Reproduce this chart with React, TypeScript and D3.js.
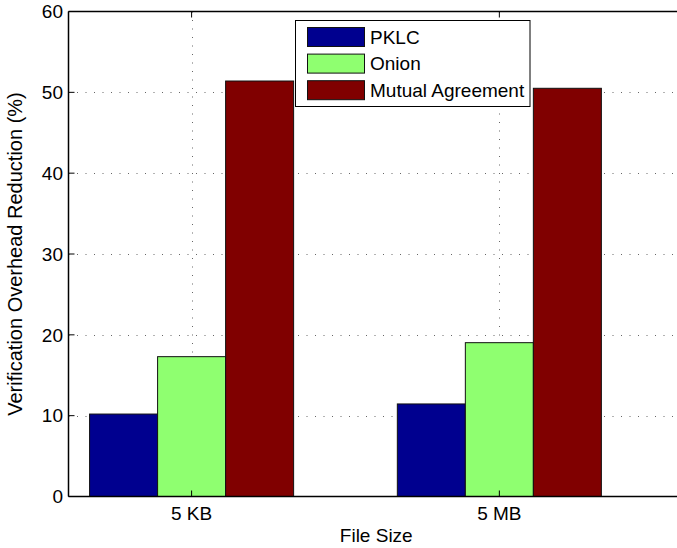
import React from "react";
import * as d3 from "d3";

const categories = ["5 KB", "5 MB"];
const seriesNames = ["PKLC", "Onion", "Mutual Agreement"];
const pklc = [10.2, 11.45];
const onion = [17.3, 19.03];
const mutual = [51.4, 50.5];
const yTicks = [0, 10, 20, 30, 40, 50, 60];
const colors = ["#00008F", "#8FFF70", "#800000"];

const W = 677;
const H = 548;
const left = 68.5;
const right = 684;
const top = 11.5;
const bottom = 496.5;
const font = "Liberation Sans, Arial, Helvetica, sans-serif";

export default function App() {
  const series = [pklc, onion, mutual];
  const x = d3.scaleLinear().domain([0.6, 2.6]).range([left, right]);
  const y = d3.scaleLinear().domain([0, 60]).range([bottom, top]);
  const band = d3
    .scaleBand<number>()
    .domain([0, 1, 2])
    .range([-0.3315, 0.3315])
    .paddingInner(0);
  const catPos = categories.map((_, i) => i + 1);

  return (
    <svg
      width={W}
      height={H}
      style={{ position: "absolute", left: 0, top: 0, background: "#fff" }}
      fontFamily={font}
    >
      <defs>
        <clipPath id="plot">
          <rect x={left} y={top} width={right - left} height={bottom - top} />
        </clipPath>
      </defs>
      {/* grid */}
      <g stroke="#666" strokeWidth={1} strokeDasharray="1,7.5" clipPath="url(#plot)">
        {yTicks.slice(1, -1).map((t) => (
          <line key={"gy" + t} x1={left} x2={right} y1={Math.round(y(t)) + 0.5} y2={Math.round(y(t)) + 0.5} />
        ))}
        {catPos.map((c) => (
          <line key={"gx" + c} x1={Math.round(x(c)) + 0.5} x2={Math.round(x(c)) + 0.5} y1={top} y2={bottom} />
        ))}
      </g>
      {/* bars */}
      <g>
        {series.map((vals, si) =>
          vals.map((v, ci) => {
            const x0 = x(catPos[ci] + (band(si) as number));
            const x1 = x(catPos[ci] + (band(si) as number) + band.bandwidth());
            return (
              <rect
                key={si + "-" + ci}
                x={x0}
                y={y(v)}
                width={x1 - x0}
                height={y(0) - y(v)}
                fill={colors[si]}
                stroke="#111"
                strokeWidth={1}
              />
            );
          })
        )}
      </g>
      {/* axes frame */}
      <g stroke="#000" strokeWidth={1.5} fill="none">
        <line x1={left} x2={right} y1={bottom} y2={bottom} />
        <line x1={left} x2={right} y1={top} y2={top} />
        <line x1={left} x2={left} y1={top} y2={bottom} />
        <line x1={right} x2={right} y1={top} y2={bottom} />
      </g>
      {/* ticks */}
      <g stroke="#000" strokeWidth={1}>
        {yTicks.map((t) => (
          <line key={"ty" + t} x1={left} x2={left + 6} y1={y(t)} y2={y(t)} />
        ))}
        {catPos.map((c) => (
          <g key={"tx" + c}>
            <line x1={x(c)} x2={x(c)} y1={bottom} y2={bottom - 6} />
            <line x1={x(c)} x2={x(c)} y1={top} y2={top + 6} />
          </g>
        ))}
      </g>
      {/* tick labels */}
      <g fontSize={19} fill="#000">
        {yTicks.map((t) => (
          <text key={"ly" + t} x={63} y={y(t) + 6.8} textAnchor="end">
            {t}
          </text>
        ))}
        {categories.map((c, i) => (
          <text key={"lx" + c} x={x(catPos[i])} y={520} textAnchor="middle">
            {c}
          </text>
        ))}
      </g>
      {/* axis titles */}
      <text x={(left + right) / 2} y={541.5} textAnchor="middle" fontSize={19}>
        File Size
      </text>
      <text
        transform={`translate(21.5,${(top + bottom) / 2}) rotate(-90)`}
        textAnchor="middle"
        fontSize={20}
      >
        Verification Overhead Reduction (%)
      </text>
      {/* legend */}
      <g>
        <rect x={295.5} y={20.5} width={234.5} height={86} fill="#fff" stroke="#000" strokeWidth={1} />
        {seriesNames.map((n, i) => (
          <g key={n} transform={`translate(0,${i * 26.6})`}>
            <rect x={307.5} y={27.5} width={57} height={19} fill={colors[i]} stroke="#111" strokeWidth={1} />
            <text x={370} y={43.8} fontSize={19}>
              {n}
            </text>
          </g>
        ))}
      </g>
    </svg>
  );
}
